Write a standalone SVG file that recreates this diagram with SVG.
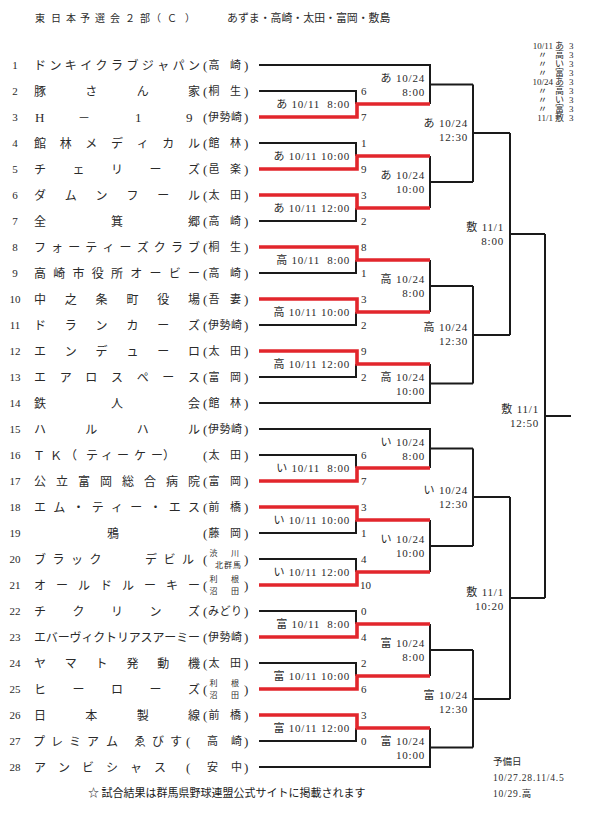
<svg xmlns="http://www.w3.org/2000/svg" width="589" height="813" viewBox="0 0 589 813">
<style>
.bk{stroke:#1a1a1a;stroke-width:2;fill:none}
.rd{stroke:#e2262c;stroke-width:3.6;fill:none}
.jp{font-family:"Noto Sans CJK JP","Liberation Serif",sans-serif;fill:#2a2a2a;font-size:12px}
.pr{font-family:"Liberation Serif","Noto Sans CJK JP",serif;fill:#2a2a2a;font-size:13px}
.loc{font-family:"Noto Sans CJK JP","Liberation Serif",sans-serif;fill:#2a2a2a;font-size:11px}
.loc2{font-family:"Noto Sans CJK JP","Liberation Serif",sans-serif;fill:#2a2a2a;font-size:8px}
.no{font-family:"Liberation Serif","Noto Sans CJK JP",serif;fill:#2a2a2a;font-size:11px;text-anchor:middle}
.sc{font-family:"Liberation Serif","Noto Sans CJK JP",serif;fill:#2a2a2a;font-size:11px}
.lb{font-family:"Liberation Serif","Noto Sans CJK JP",serif;fill:#2a2a2a;font-size:11px;letter-spacing:0.8px;text-anchor:end;white-space:pre}
.sm{font-family:"Liberation Serif","Noto Sans CJK JP",serif;fill:#2a2a2a;font-size:9px}
</style>
<rect width="589" height="813" fill="#fff"/>

<g id="title">
<text class="jp" style="font-size:10px" x="35 51 66 80 95 110 125 140 151 167 185" y="22">東日本予選会２部（Ｃ）</text>
<text class="jp" style="font-size:10.9px" x="227" y="22">あずま・高崎・太田・富岡・敷島</text>
</g>

<g id="schedule-note">
<text class="sm" x="553" y="49" text-anchor="end">10/11</text><text class="sm" x="555" y="49">あ</text><text class="sm" x="569" y="49">3</text>
<text class="sm" x="538" y="58">〃</text><text class="sm" x="555" y="58">高</text><text class="sm" x="569" y="58">3</text>
<text class="sm" x="538" y="67">〃</text><text class="sm" x="555" y="67">い</text><text class="sm" x="569" y="67">3</text>
<text class="sm" x="538" y="76">〃</text><text class="sm" x="555" y="76">富</text><text class="sm" x="569" y="76">3</text>
<text class="sm" x="553" y="85" text-anchor="end">10/24</text><text class="sm" x="555" y="85">あ</text><text class="sm" x="569" y="85">3</text>
<text class="sm" x="538" y="94">〃</text><text class="sm" x="555" y="94">高</text><text class="sm" x="569" y="94">3</text>
<text class="sm" x="538" y="103">〃</text><text class="sm" x="555" y="103">い</text><text class="sm" x="569" y="103">3</text>
<text class="sm" x="538" y="112">〃</text><text class="sm" x="555" y="112">富</text><text class="sm" x="569" y="112">3</text>
<text class="sm" x="553" y="121" text-anchor="end">11/1</text><text class="sm" x="555" y="121">敷</text><text class="sm" x="569" y="121">3</text>
</g>

<g id="connectors">
<path class="bk" d="M259 91H356V104"/>
<path class="bk" d="M259 143H356V156"/>
<path class="bk" d="M259 221H356V208"/>
<path class="bk" d="M259 273H356V260"/>
<path class="bk" d="M259 325H356V312"/>
<path class="bk" d="M259 377H356V364"/>
<path class="bk" d="M259 455H356V468"/>
<path class="bk" d="M259 533H356V520"/>
<path class="bk" d="M259 559H356V572"/>
<path class="bk" d="M259 611H356V624"/>
<path class="bk" d="M259 663H356V676"/>
<path class="bk" d="M259 741H356V728"/>
<path class="bk" d="M259 65H430V104M430 84.5H473"/>
<path class="bk" d="M430 156V208M430 182H473"/>
<path class="bk" d="M430 260V312M430 286H473"/>
<path class="bk" d="M259 403H430V364M430 383.5H473"/>
<path class="bk" d="M259 429H430V468M430 448.5H473"/>
<path class="bk" d="M430 520V572M430 546H473"/>
<path class="bk" d="M430 624V676M430 650H473"/>
<path class="bk" d="M259 767H430V728M430 747.5H473"/>
<path class="bk" d="M473 84.5V182M473 133H510"/>
<path class="bk" d="M473 286V383.5M473 335H510"/>
<path class="bk" d="M473 448.5V546M473 497H510"/>
<path class="bk" d="M473 650V747.5M473 699H510"/>
<path class="bk" d="M510 133V335M510 234H545"/>
<path class="bk" d="M510 497V699M510 598H545"/>
<path class="bk" d="M545 234V598M545 416H571"/>
<path class="rd" d="M259 117H357V104H430"/>
<path class="rd" d="M259 169H357V156H430"/>
<path class="rd" d="M259 195H357V208H430"/>
<path class="rd" d="M259 247H357V260H430"/>
<path class="rd" d="M259 299H357V312H430"/>
<path class="rd" d="M259 351H357V364H430"/>
<path class="rd" d="M259 481H357V468H430"/>
<path class="rd" d="M259 507H357V520H430"/>
<path class="rd" d="M259 585H357V572H430"/>
<path class="rd" d="M259 637H357V624H430"/>
<path class="rd" d="M259 689H357V676H430"/>
<path class="rd" d="M259 715H357V728H430"/>
</g>

<g id="team-1"><text class="no" x="15" y="69">1</text><text class="jp" x="34 49.4 64.8 80.2 95.6 111 126.4 141.8 157.2 172.6 188" y="69.5">ドンキイクラブジャパン</text><text class="pr" x="203" y="69.5">(</text><text class="loc" x="208.5 230" y="69">高崎</text><text class="pr" x="244" y="69.5">)</text></g>
<g id="team-2"><text class="no" x="15" y="95">2</text><text class="jp" x="34 85.3 136.7 188" y="95.5">豚さん家</text><text class="pr" x="203" y="95.5">(</text><text class="loc" x="208.5 230" y="95">桐生</text><text class="pr" x="244" y="95.5">)</text></g>
<g id="team-3"><text class="no" x="15" y="121">3</text><text class="sc" style="font-size:13px" x="35" y="121.5">H</text><text class="jp" x="78" y="121.5">－</text><text class="sc" style="font-size:13px" x="135" y="121.5">1</text><text class="sc" style="font-size:13px" x="186" y="121.5">9</text><text class="pr" x="203" y="121.5">(</text><text class="loc" x="208 219.5 231" y="121">伊勢崎</text><text class="pr" x="244" y="121.5">)</text></g>
<g id="team-4"><text class="no" x="15" y="147">4</text><text class="jp" x="34 59.7 85.3 111 136.7 162.3 188" y="147.5">館林メディカル</text><text class="pr" x="203" y="147.5">(</text><text class="loc" x="208.5 230" y="147">館林</text><text class="pr" x="244" y="147.5">)</text></g>
<g id="team-5"><text class="no" x="15" y="173">5</text><text class="jp" x="34 72.5 111 149.5 188" y="173.5">チェリーズ</text><text class="pr" x="203" y="173.5">(</text><text class="loc" x="208.5 230" y="173">邑楽</text><text class="pr" x="244" y="173.5">)</text></g>
<g id="team-6"><text class="no" x="15" y="199">6</text><text class="jp" x="34 64.8 95.6 126.4 157.2 188" y="199.5">ダムンフール</text><text class="pr" x="203" y="199.5">(</text><text class="loc" x="208.5 230" y="199">太田</text><text class="pr" x="244" y="199.5">)</text></g>
<g id="team-7"><text class="no" x="15" y="225">7</text><text class="jp" x="34 111 188" y="225.5">全箕郷</text><text class="pr" x="203" y="225.5">(</text><text class="loc" x="208.5 230" y="225">高崎</text><text class="pr" x="244" y="225.5">)</text></g>
<g id="team-8"><text class="no" x="15" y="251">8</text><text class="jp" x="34 51.1 68.2 85.3 102.4 119.6 136.7 153.8 170.9 188" y="251.5">フォーティーズクラブ</text><text class="pr" x="203" y="251.5">(</text><text class="loc" x="208.5 230" y="251">桐生</text><text class="pr" x="244" y="251.5">)</text></g>
<g id="team-9"><text class="no" x="15" y="277">9</text><text class="jp" x="34 53.25 72.5 91.75 111 130.25 149.5 168.75 188" y="277.5">高崎市役所オービー</text><text class="pr" x="203" y="277.5">(</text><text class="loc" x="208.5 230" y="277">高崎</text><text class="pr" x="244" y="277.5">)</text></g>
<g id="team-10"><text class="no" x="15" y="303">10</text><text class="jp" x="34 64.8 95.6 126.4 157.2 188" y="303.5">中之条町役場</text><text class="pr" x="203" y="303.5">(</text><text class="loc" x="208.5 230" y="303">吾妻</text><text class="pr" x="244" y="303.5">)</text></g>
<g id="team-11"><text class="no" x="15" y="329">11</text><text class="jp" x="34 64.8 95.6 126.4 157.2 188" y="329.5">ドランカーズ</text><text class="pr" x="203" y="329.5">(</text><text class="loc" x="208 219.5 231" y="329">伊勢崎</text><text class="pr" x="244" y="329.5">)</text></g>
<g id="team-12"><text class="no" x="15" y="355">12</text><text class="jp" x="34 64.8 95.6 126.4 157.2 188" y="355.5">エンデューロ</text><text class="pr" x="203" y="355.5">(</text><text class="loc" x="208.5 230" y="355">太田</text><text class="pr" x="244" y="355.5">)</text></g>
<g id="team-13"><text class="no" x="15" y="381">13</text><text class="jp" x="34 59.7 85.3 111 136.7 162.3 188" y="381.5">エアロスペース</text><text class="pr" x="203" y="381.5">(</text><text class="loc" x="208.5 230" y="381">富岡</text><text class="pr" x="244" y="381.5">)</text></g>
<g id="team-14"><text class="no" x="15" y="407">14</text><text class="jp" x="34 111 188" y="407.5">鉄人会</text><text class="pr" x="203" y="407.5">(</text><text class="loc" x="208.5 230" y="407">館林</text><text class="pr" x="244" y="407.5">)</text></g>
<g id="team-15"><text class="no" x="15" y="433">15</text><text class="jp" x="34 85.3 136.7 188" y="433.5">ハルハル</text><text class="pr" x="203" y="433.5">(</text><text class="loc" x="208 219.5 231" y="433">伊勢崎</text><text class="pr" x="244" y="433.5">)</text></g>
<g id="team-16"><text class="no" x="15" y="459">16</text><text class="jp" x="33 50 65 86 101 117 134 151 163" y="459.5">ＴＫ（ティーケー）</text><text class="pr" x="203" y="459.5">(</text><text class="loc" x="208.5 230" y="459">太田</text><text class="pr" x="244" y="459.5">)</text></g>
<g id="team-17"><text class="no" x="15" y="485">17</text><text class="jp" x="34 56 78 100 122 144 166 188" y="485.5">公立富岡総合病院</text><text class="pr" x="203" y="485.5">(</text><text class="loc" x="208.5 230" y="485">富岡</text><text class="pr" x="244" y="485.5">)</text></g>
<g id="team-18"><text class="no" x="15" y="511">18</text><text class="jp" x="34 53.25 72.5 91.75 111 130.25 149.5 168.75 188" y="511.5">エム・ティー・エス</text><text class="pr" x="203" y="511.5">(</text><text class="loc" x="208.5 230" y="511">前橋</text><text class="pr" x="244" y="511.5">)</text></g>
<g id="team-19"><text class="no" x="15" y="537">19</text><text class="jp" x="107" y="537.5">鴉</text><text class="pr" x="203" y="537.5">(</text><text class="loc" x="208.5 230" y="537">藤岡</text><text class="pr" x="244" y="537.5">)</text></g>
<g id="team-20"><text class="no" x="15" y="563">20</text><text class="jp" x="34 52.5 71 89.5 145 163.5 182" y="563.5">ブラックデビル</text><text class="pr" x="203" y="563.5">(</text><text class="loc2" x="209.5 231" y="556">渋川</text><text class="loc2" x="215 224 233" y="568">北群馬</text><text class="pr" x="244" y="563.5">)</text></g>
<g id="team-21"><text class="no" x="15" y="589">21</text><text class="jp" x="34 56 78 100 122 144 166 188" y="589.5">オールドルーキー</text><text class="pr" x="203" y="589.5">(</text><text class="loc2" x="209.5 231" y="582">利根</text><text class="loc2" x="209.5 231" y="594">沼田</text><text class="pr" x="244" y="589.5">)</text></g>
<g id="team-22"><text class="no" x="15" y="615">22</text><text class="jp" x="34 72.5 111 149.5 188" y="615.5">チクリンズ</text><text class="pr" x="203" y="615.5">(</text><text class="loc" x="208 219.5 231" y="615">みどり</text><text class="pr" x="244" y="615.5">)</text></g>
<g id="team-23"><text class="no" x="15" y="641">23</text><text class="jp" x="34 45.85 57.69 69.54 81.38 93.23 105.08 116.92 128.77 140.62 152.46 164.31 176.15 188" y="641.5">エバーヴィクトリアスアーミー</text><text class="pr" x="203" y="641.5">(</text><text class="loc" x="208 219.5 231" y="641">伊勢崎</text><text class="pr" x="244" y="641.5">)</text></g>
<g id="team-24"><text class="no" x="15" y="667">24</text><text class="jp" x="34 64.8 95.6 126.4 157.2 188" y="667.5">ヤマト発動機</text><text class="pr" x="203" y="667.5">(</text><text class="loc" x="208.5 230" y="667">太田</text><text class="pr" x="244" y="667.5">)</text></g>
<g id="team-25"><text class="no" x="15" y="693">25</text><text class="jp" x="34 72.5 111 149.5 188" y="693.5">ヒーローズ</text><text class="pr" x="203" y="693.5">(</text><text class="loc2" x="209.5 231" y="686">利根</text><text class="loc2" x="209.5 231" y="698">沼田</text><text class="pr" x="244" y="693.5">)</text></g>
<g id="team-26"><text class="no" x="15" y="719">26</text><text class="jp" x="34 85.3 136.7 188" y="719.5">日本製線</text><text class="pr" x="203" y="719.5">(</text><text class="loc" x="208.5 230" y="719">前橋</text><text class="pr" x="244" y="719.5">)</text></g>
<g id="team-27"><text class="no" x="15" y="745">27</text><text class="jp" x="33 51 69 87 106 134 152 170" y="745.5">プレミアムゑびす</text><text class="pr" x="186" y="745.5">(</text><text class="loc" x="207 231" y="745">高崎</text><text class="pr" x="244" y="745.5">)</text></g>
<g id="team-28"><text class="no" x="15" y="771">28</text><text class="jp" x="34 58 82 106 130 154" y="771.5">アンビシャス</text><text class="pr" x="186" y="771.5">(</text><text class="loc" x="207 231" y="771">安中</text><text class="pr" x="244" y="771.5">)</text></g>

<g id="scores">
<text class="sc" x="361" y="95">6</text><text class="sc" x="361" y="121">7</text>
<text class="sc" x="361" y="147">1</text><text class="sc" x="361" y="173">9</text>
<text class="sc" x="361" y="199">3</text><text class="sc" x="361" y="225">2</text>
<text class="sc" x="361" y="251">8</text><text class="sc" x="361" y="277">1</text>
<text class="sc" x="361" y="303">3</text><text class="sc" x="361" y="329">2</text>
<text class="sc" x="361" y="355">9</text><text class="sc" x="361" y="381">2</text>
<text class="sc" x="361" y="459">6</text><text class="sc" x="361" y="485">7</text>
<text class="sc" x="361" y="511">3</text><text class="sc" x="361" y="537">1</text>
<text class="sc" x="361" y="563">4</text><text class="sc" x="360" y="589">10</text>
<text class="sc" x="361" y="615">0</text><text class="sc" x="361" y="641">4</text>
<text class="sc" x="361" y="667">2</text><text class="sc" x="361" y="693">6</text>
<text class="sc" x="361" y="719">3</text><text class="sc" x="361" y="745">0</text>
</g>

<g id="round1-labels">
<text class="lb" x="350" y="108">あ 10/11  8:00</text>
<text class="lb" x="350" y="160">あ 10/11 10:00</text>
<text class="lb" x="350" y="212">あ 10/11 12:00</text>
<text class="lb" x="350" y="264">高 10/11  8:00</text>
<text class="lb" x="350" y="316">高 10/11 10:00</text>
<text class="lb" x="350" y="368">高 10/11 12:00</text>
<text class="lb" x="350" y="472">い 10/11  8:00</text>
<text class="lb" x="350" y="524">い 10/11 10:00</text>
<text class="lb" x="350" y="576">い 10/11 12:00</text>
<text class="lb" x="350" y="628">富 10/11  8:00</text>
<text class="lb" x="350" y="680">富 10/11 10:00</text>
<text class="lb" x="350" y="732">富 10/11 12:00</text>
</g>

<g id="round2-labels">
<text class="lb" x="425" y="82">あ 10/24</text><text class="lb" x="425" y="96">8:00</text>
<text class="lb" x="425" y="179">あ 10/24</text><text class="lb" x="425" y="193">10:00</text>
<text class="lb" x="425" y="283">高 10/24</text><text class="lb" x="425" y="297">8:00</text>
<text class="lb" x="425" y="381">高 10/24</text><text class="lb" x="425" y="395">10:00</text>
<text class="lb" x="425" y="446">い 10/24</text><text class="lb" x="425" y="460">8:00</text>
<text class="lb" x="425" y="543">い 10/24</text><text class="lb" x="425" y="557">10:00</text>
<text class="lb" x="425" y="647">富 10/24</text><text class="lb" x="425" y="661">8:00</text>
<text class="lb" x="425" y="745">富 10/24</text><text class="lb" x="425" y="759">10:00</text>
</g>

<g id="round3-labels">
<text class="lb" x="468" y="127">あ 10/24</text><text class="lb" x="468" y="141">12:30</text>
<text class="lb" x="468" y="331">高 10/24</text><text class="lb" x="468" y="345">12:30</text>
<text class="lb" x="468" y="494">い 10/24</text><text class="lb" x="468" y="508">12:30</text>
<text class="lb" x="468" y="699">富 10/24</text><text class="lb" x="468" y="713">12:30</text>
</g>

<g id="semi-labels">
<text class="lb" x="504" y="231">敷 11/1</text><text class="lb" x="504" y="245">8:00</text>
<text class="lb" x="504" y="596">敷 11/1</text><text class="lb" x="504" y="610">10:20</text>
</g>

<g id="final-label">
<text class="lb" x="539" y="413">敷 11/1</text><text class="lb" x="539" y="427">12:50</text>
</g>

<g id="reserve-days">
<text class="sm" style="font-size:9.5px" x="493" y="765">予備日</text>
<text class="sm" style="font-size:9.5px;letter-spacing:0.8px" x="493" y="781">10/27.28.11/4.5</text>
<text class="sm" style="font-size:9.5px;letter-spacing:0.8px" x="493" y="797">10/29.高</text>
</g>

<g id="footer">
<text class="jp" style="font-size:11px;fill:#1a1a1a" x="88" y="797">☆ 試合結果は群馬県野球連盟公式サイトに掲載されます</text>
</g>
</svg>
